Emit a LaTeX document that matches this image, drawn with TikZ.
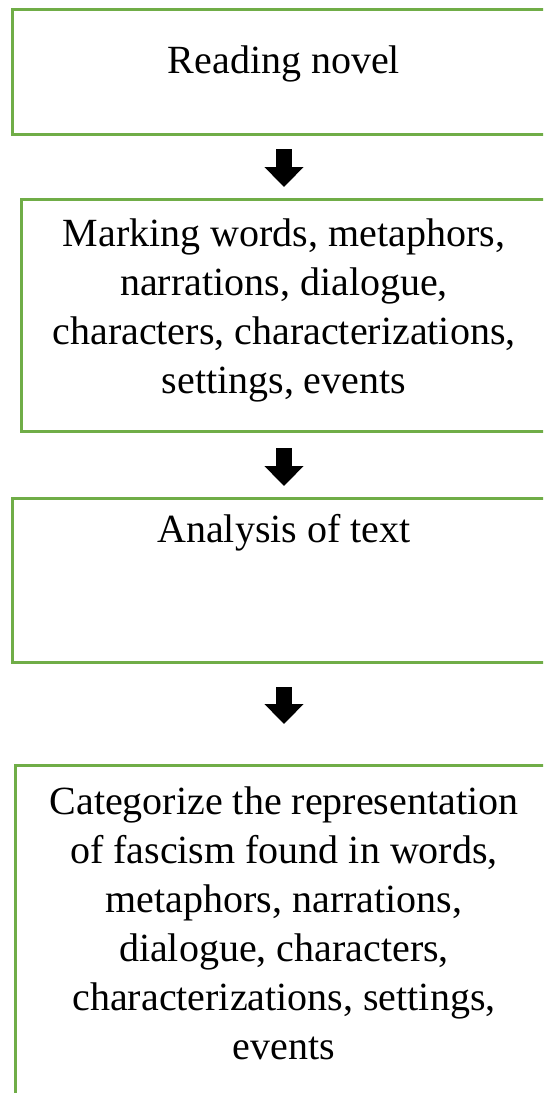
\documentclass[tikz,border=0pt]{standalone}
\usepackage{fontspec}
\setmainfont{Liberation Serif}
\usetikzlibrary{arrows.meta}
\definecolor{stagegreen}{RGB}{112,173,71}

\tikzset{every picture/.style={line width=0.75pt}}
\tikzset{
  stagebox/.style={draw=stagegreen, line width=2.25pt, inner sep=0pt, outer sep=0pt},
  stagetext/.style={inner sep=0.75pt, align=center, font=\fontsize{30}{36.75}\selectfont},
  blockarrow/.style={line width=12pt, -{Triangle[width=28.5pt,length=15pt]}}
}

\begin{document}
\begin{tikzpicture}[x=0.75pt,y=0.75pt,yscale=-1,xscale=1]
\useasboundingbox (0,0) rectangle (543,1093);
\clip (0,0) rectangle (543,1093);

%Shape: Rectangle [reading]
\node [stagebox, minimum width=408pt, minimum height=93.75pt] (box1) at (284,71.5) {};
%Shape: Rectangle [marking]
\node [stagebox, minimum width=394.5pt, minimum height=174pt] (box2) at (284,315) {};
%Shape: Rectangle [analysis]
\node [stagebox, minimum width=408pt, minimum height=123pt] (box3) at (284,580) {};
%Shape: Rectangle [categorize]
\node [stagebox, minimum width=403.5pt, minimum height=270pt] (box4) at (284,945) {};

%Block Arrow
\draw [blockarrow, shorten <=11.25pt, shorten >=9pt] (box1.south) -- (box2.north) ;
%Block Arrow
\draw [blockarrow, shorten <=12.75pt, shorten >=9pt] (box2.south) -- (box3.north) ;
%Block Arrow
\draw [blockarrow, shorten <=18.75pt, shorten >=30.75pt] (box3.south) -- (box4.north) ;

% Text Node
\node [stagetext] (txt1) at (284,64) {Reading novel};
% Text Node
\node [stagetext] (txt2) at (284,310) {Marking words, metaphors,\\narrations, dialogue,\\characters, characterizations,\\settings, events};
% Text Node
\node [stagetext] (txt3) at (284,533) {Analysis of text};
% Text Node
\node [stagetext] (txt4) at (284,923) {Categorize the representation\\of fascism found in words,\\metaphors, narrations,\\dialogue, characters,\\characterizations, settings,\\events};

\end{tikzpicture}
\end{document}
